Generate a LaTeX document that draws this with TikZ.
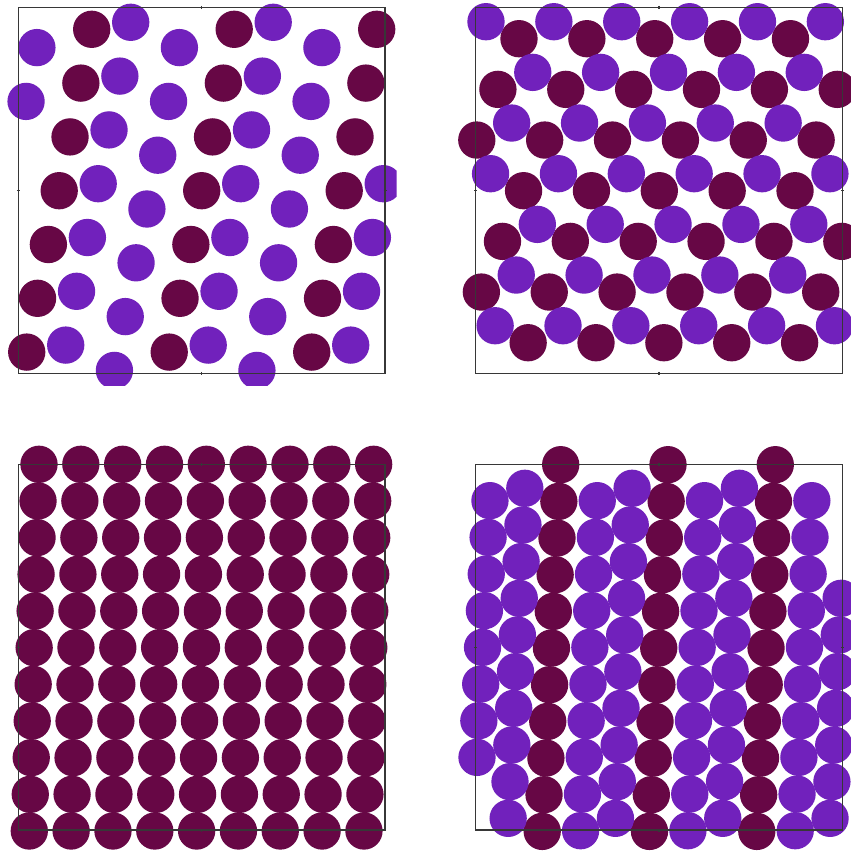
\documentclass[tikz,border=0pt]{standalone}
\usepackage{tikz}
\usetikzlibrary{positioning}
\usepackage{xcolor}
\definecolor{latticeMaroon}{RGB}{103,7,69}
\definecolor{latticeViolet}{RGB}{113,33,188}
\definecolor{frameGray}{RGB}{55,55,55}
\newcommand{\atomR}{0.1865cm}

\begin{document}
\begin{tikzpicture}[x=0.01cm,y=-0.01cm,
    maroonAtom/.style={fill=latticeMaroon},
    violetAtom/.style={fill=latticeViolet},
    panelFrame/.style={draw=frameGray,line width=0.35pt}]
    \useasboundingbox (0,0) rectangle (851,851);
    \fill[white] (0,0) rectangle (851,851);
    % top left: loose pairs
    \begin{scope}
      \clip (0,0) rectangle (396.7,385);
      \foreach \r in {0,...,6}
        \foreach \k in {0,1,2}
          {\fill[maroonAtom] ({91.7+142.5*\k-10.83*\r},{29.3+53.8*\r}) circle (\atomR);}
      \foreach \r/\kmax in {0/1,1/1,2/1,3/2,4/2,5/2,6/2}
        \foreach \k in {0,...,\kmax}
          {\fill[violetAtom] ({130.7+142.5*\k-10.83*\r},{22.3+53.8*\r}) circle (\atomR);}
      \foreach \r/\kmin in {0/-1,1/-1,2/0,3/0,4/0,5/0,6/0}
        \foreach \k in {\kmin,...,1}
          {\fill[violetAtom] ({179.4+142.5*\k-10.83*\r},{47.6+53.8*\r}) circle (\atomR);}
    \end{scope}
    % top right: zigzag rows
    \foreach \r/\lo/\hi in {0/0/4,1/0/5,2/0/5,3/1/5,4/1/6,5/1/6,6/2/6}
      \foreach \i in {\lo,...,\hi}
        {\fill[maroonAtom] ({519+67.87*\i-21.1*\r},{38.7+50.67*\r}) circle (\atomR);}
    \foreach \r/\lo/\hi in {0/0/5,1/1/5,2/1/5,3/1/6,4/2/6,5/2/6,6/2/7}
      \foreach \i in {\lo,...,\hi}
        {\fill[violetAtom] ({486+67.87*\i-21.1*\r},{21.7+50.67*\r}) circle (\atomR);}
    % bottom left: square grid
    \foreach \r in {0,...,10}
      \foreach \c in {0,...,8}
        {\fill[maroonAtom] ({39+41.83*\c-0.97*\r},{464.3+36.67*\r}) circle (\atomR);}
    % bottom right: columns
    \foreach \c in {0,1,2}
      \foreach \r in {0,...,10}
        {\fill[maroonAtom] ({560.7+107.3*\c-1.85*\r},{464.7+36.67*\r}) circle (\atomR);}
    \foreach \c/\rmax in {-1/8,0/10,1/10,2/10}
      \foreach \r in {1,...,\rmax}
        {\fill[violetAtom] ({599.1+107.3*\c-1.85*\r},{464.0+36.67*\r}) circle (\atomR);}
    \foreach \c/\kmin in {-1/0,0/0,1/0,2/3}
      \foreach \k in {\kmin,...,9}
        {\fill[violetAtom] ({632.1+107.3*\c-1.85*\k},{488.3+36.67*\k}) circle (\atomR);}
    % frames with mid ticks
    \foreach \xa/\ya/\xb/\yb in {18.3/7.3/385/373.3,475.7/7.3/842.3/373.3,
                                 18.3/464.3/385/830,475.7/464.3/842.3/830}
      {\draw[panelFrame] (\xa,\ya) rectangle (\xb,\yb);
       \draw[panelFrame] ({(\xa+\xb)/2},{\ya-1.5}) -- ++(0,3);
       \draw[panelFrame] ({(\xa+\xb)/2},{\yb-1.5}) -- ++(0,3);
       \draw[panelFrame] ({\xa-1.5},{(\ya+\yb)/2}) -- ++(3,0);
       \draw[panelFrame] ({\xb-1.5},{(\ya+\yb)/2}) -- ++(3,0);}
  \end{tikzpicture}
\end{document}
